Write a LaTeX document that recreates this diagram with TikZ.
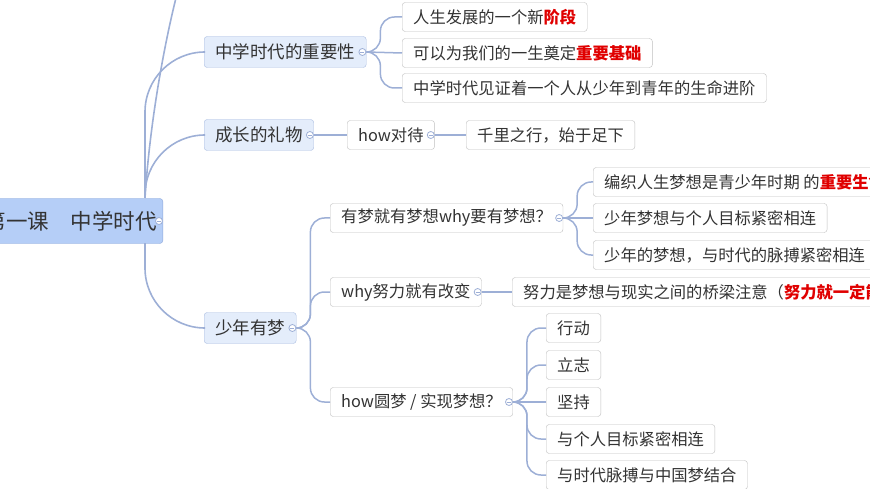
\documentclass[tikz,border=0pt]{standalone}
\usepackage{fontspec}
\newfontfamily\cjk{Noto Sans CJK SC}
\usetikzlibrary{calc}
\definecolor{ln}{HTML}{9DAFD6}
\definecolor{rootf}{HTML}{B5CEF7}
\definecolor{rootd}{HTML}{8FA9D9}
\definecolor{lvf}{HTML}{E4EDFB}
\definecolor{lvd}{HTML}{A9BCE0}
\definecolor{bxd}{HTML}{BFBFBF}
\definecolor{tx}{HTML}{333333}
\definecolor{rd}{HTML}{E00000}
\newcommand{\R}[1]{\textcolor{rd}{\bfseries #1}}
\begin{document}
\begin{tikzpicture}[x=1pt,y=-1pt,
  base/.style={anchor=west,rounded corners=3pt,minimum height=29pt,inner xsep=11pt,text=tx,font=\cjk\fontsize{16.3}{19}\selectfont},
  root/.style={base,anchor=east,fill=rootf,draw=rootd,minimum height=45pt,font=\cjk\fontsize{21.5}{24}\selectfont,inner xsep=6pt},
  lv/.style={base,fill=lvf,draw=lvd,minimum height=31pt,font=\cjk\fontsize{17.5}{20}\selectfont},
  bx/.style={base,fill=white,draw=bxd},
  con/.style={draw=ln,line width=1.5pt,rounded corners=14pt},
  rcon/.style={draw=ln,line width=1.6pt,rounded corners=60pt}]
\useasboundingbox (0,0) rectangle (870,489);
\clip (0,0) rectangle (870,489);
\newcommand{\colc}[1]{\draw[draw=ln,fill=white,line width=0.8pt] ($(#1.east)+(-4,0)$) circle (3.5); \draw[ln,line width=0.8pt] ($(#1.east)+(-6,0)$) -- ($(#1.east)+(-2,0)$);}

\coordinate (top) at (178,-10);
\coordinate (rt) at (145,198);
\coordinate (rb) at (145,243);

\node[root] (r) at (163,221) {第一课\quad 中学时代\hspace{10pt}};
\node[lv] (a) at (204,52) {中学时代的重要性\hspace{4pt}};
\node[lv] (b) at (204,135) {成长的礼物\hspace{4pt}};
\node[lv] (c) at (204,328) {少年有梦\hspace{4pt}};

\node[bx] (a1) at (402,17) {人生发展的一个新\R{阶段}};
\node[bx] (a2) at (402,53) {可以为我们的一生奠定\R{重要基础}};
\node[bx] (a3) at (402,88) {中学时代见证着一个人从少年到青年的生命进阶};

\node[bx] (b1) at (347,135) {how对待\hspace{2pt}};
\node[bx] (b2) at (466,135) {千里之行，始于足下};

\node[bx] (c1) at (330,218) {有梦就有梦想why要有梦想？\hspace{2pt}};
\node[bx] (c2) at (330,292) {why努力就有改变\hspace{2pt}};
\node[bx] (c3) at (330,402) {how圆梦 / 实现梦想？\hspace{2pt}};

\node[bx] (d1) at (593,182) {编织人生梦想是青少年时期 的\R{重要生命课题}};
\node[bx] (d2) at (593,218) {少年梦想与个人目标紧密相连};
\node[bx] (d3) at (593,255) {少年的梦想，与时代的脉搏紧密相连};
\node[bx] (e1) at (512,292) {努力是梦想与现实之间的桥梁注意（\R{努力就一定能成功}）};
\node[bx] (f1) at (546,328) {行动};
\node[bx] (f2) at (546,365) {立志};
\node[bx] (f3) at (546,402) {坚持};
\node[bx] (f4) at (546,439) {与个人目标紧密相连};
\node[bx] (f5) at (546,475) {与时代脉搏与中国梦结合};

\draw[ln,line width=1.6pt] (rt) .. controls (150,120) and (165,40) .. (top);
\draw[rcon] (rt) |- (a.west);
\draw[rcon] (rt) |- (b.west);
\draw[rcon] (rb) |- (c.west);
\foreach \p/\c in {a/a1,a/a3,c/c1,c/c2,c/c3,c1/d1,c1/d3,c3/f1,c3/f2,c3/f4,c3/f5}
  \draw[con] (\p.east) -- ++(14,0) |- (\c.west);
\foreach \p/\c in {b/b1,b1/b2,c2/e1,a/a2,c1/d2,c3/f3}
  \draw[ln,line width=1.5pt] (\p.east) -- (\c.west);
\colc{r}\colc{a}\colc{b}\colc{c}\colc{b1}\colc{c1}\colc{c2}\colc{c3}
\end{tikzpicture}
\end{document}
